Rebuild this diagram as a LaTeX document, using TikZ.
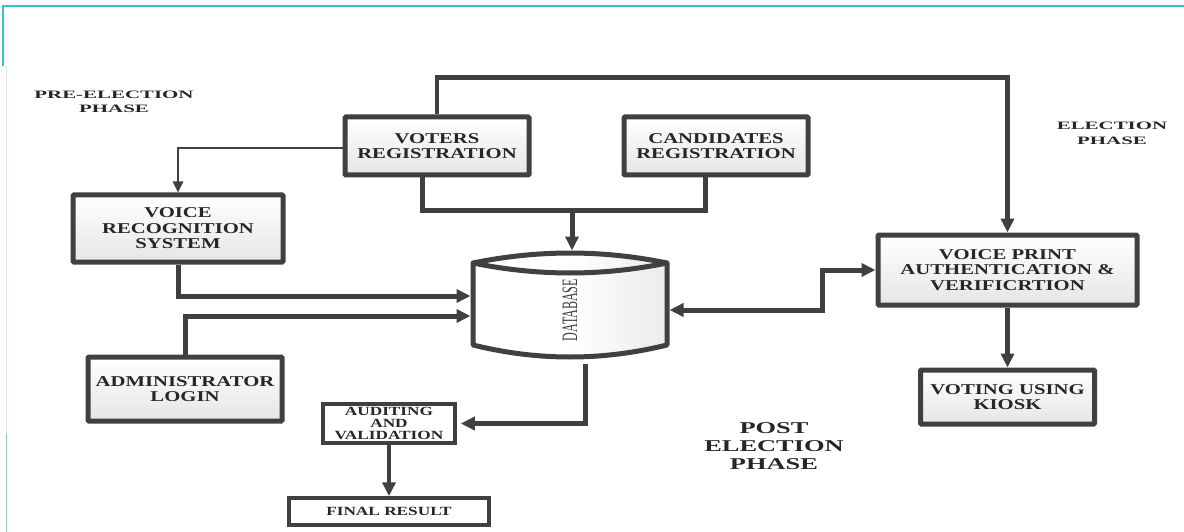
\documentclass[tikz,border=0pt]{standalone}
\usepackage{fontspec}
\setmainfont{Liberation Serif}
\newfontfamily\boxfont{Liberation Serif}[FakeStretch=1.38]
\newfontfamily\labfont{Liberation Serif}[FakeStretch=1.85]
\newfontfamily\postfont{Liberation Serif}[FakeStretch=1.6]
\newfontfamily\dbfont{Liberation Serif}[FakeStretch=0.55]
\usetikzlibrary{arrows.meta}
\definecolor{ink}{HTML}{404040}
\definecolor{txt}{HTML}{262626}
\definecolor{teal1}{HTML}{33C3C6}
\begin{document}
\begin{tikzpicture}[x=1pt,y=-1pt,
  mainbox/.style={draw=ink, line width=5pt, rounded corners=1pt, top color=white, bottom color=black!10,
    text=txt, align=center, inner sep=0pt, font=\boxfont\bfseries\fontsize{15pt}{15.5pt}\selectfont},
  plainbox/.style={draw=ink, line width=3.5pt, fill=white, text=txt, align=center, inner sep=0pt,
    font=\boxfont\bfseries\fontsize{12.5pt}{12pt}\selectfont},
  phaselabel/.style={text=txt, align=center, inner sep=0pt, font=\labfont\bfseries\fontsize{11.3pt}{13.5pt}\selectfont},
  conn/.style={draw=ink, line width=5pt, -{Triangle[length=14pt,width=13pt]}},
  thinconn/.style={draw=ink, line width=2.5pt, -{Triangle[length=11pt,width=10pt]}},
  link/.style={draw=ink, line width=5pt}
]
\useasboundingbox (0,0) rectangle (1184,532);
% frame
\draw[teal1, line width=1.5pt] (3,66) -- (3,6) -- (1184,6);
\draw[teal1!25, line width=1pt] (6,66) -- (6,434);
\draw[teal1!70, line width=1pt] (6,434) -- (6,532);

% boxes
\node[mainbox, minimum width=184pt, minimum height=58pt] (voters) at (437,146) {VOTERS\\REGISTRATION};
\node[mainbox, minimum width=184pt, minimum height=58pt] (cand) at (716,146) {CANDIDATES\\REGISTRATION};
\node[mainbox, minimum width=210pt, minimum height=67pt] (vr) at (178,228.5) {VOICE\\RECOGNITION\\SYSTEM};
\node[mainbox, minimum width=194pt, minimum height=64pt] (admin) at (185,389) {ADMINISTRATOR\\LOGIN};
\node[mainbox, minimum width=259pt, minimum height=70pt] (vpa) at (1007.5,270) {VOICE PRINT\\AUTHENTICATION \&\\VERIFICRTION};
\node[mainbox, minimum width=174pt, minimum height=54pt] (voting) at (1007.5,397) {VOTING USING\\KIOSK};
\node[plainbox, minimum width=132pt, minimum height=39pt] (aud) at (389,423.5) {AUDITING\\AND\\VALIDATION};
\node[plainbox, minimum width=200pt, minimum height=27pt] (final) at (389,511.5) {FINAL RESULT};

% database
\node[minimum width=194pt, minimum height=82pt, inner sep=0pt, outer sep=2.5pt] (db) at (570,304) {};
\fill[left color=white, right color=black!8, middle color=white]
  (473,263) -- (473,345) .. controls (538,361) and (602,361) .. (667,345) -- (667,263)
  .. controls (602,249.7) and (538,249.7) .. cycle;
\draw[ink, line width=5pt, line join=round]
  (473,263) -- (473,345) .. controls (538,361) and (602,361) .. (667,345) -- (667,263)
  .. controls (602,249.7) and (538,249.7) .. cycle;
\draw[ink, line width=5pt] (473,263) .. controls (538,276.3) and (602,276.3) .. (667,263);
\node[rotate=90, text=ink, inner sep=0pt, font=\dbfont\fontsize{22pt}{22pt}\selectfont] (dbtext) at (570,310) {DATABASE};

% phase labels
\node[phaselabel] (pre) at (114,102) {PRE-ELECTION\\PHASE};
\node[phaselabel, font=\labfont\bfseries\fontsize{11.3pt}{15pt}\selectfont] (el) at (1112,133) {ELECTION\\PHASE};
\node[text=txt, align=center, inner sep=0pt, font=\postfont\bfseries\fontsize{16.5pt}{18pt}\selectfont] (post) at (774,446) {POST\\ELECTION\\PHASE};

% connectors
\coordinate (join) at (572,210);
\draw[link] ([xshift=-15pt]voters.south) |- (join) -| ([xshift=-11pt]cand.south);
\draw[conn] (join) -- ([xshift=2pt,yshift=10pt]db.north);
\draw[conn, line width=4.5pt] (voters.north) -- ++(0,-37) -| (vpa.north);
\draw[thinconn] ([yshift=-2pt]voters.west) -| (vr.north);
\draw[conn] (vr.south) |- ([yshift=8pt]db.west);
\draw[conn] (admin.north) |- ([yshift=-12pt]db.west);
\draw[conn, shorten >=4pt] ([xshift=15pt,yshift=-16pt]db.south) |- (aud.east);
\draw[conn, line width=4pt] (aud.south) -- (final.north);
\draw[conn, {Triangle[length=14pt,width=13pt]}-{Triangle[length=14pt,width=13pt]}]
  ([yshift=-6pt]db.east) -- ++(153,0) |- (vpa.west);
\draw[conn] (vpa.south) -- (voting.north);
\end{tikzpicture}
\end{document}
